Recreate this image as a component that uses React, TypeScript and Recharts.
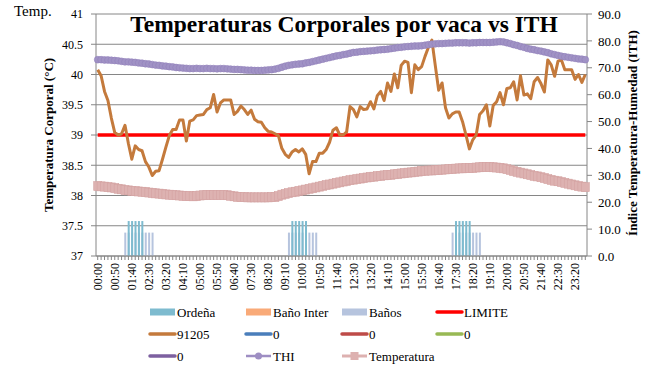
import { ComposedChart, Bar, Line, XAxis, YAxis, CartesianGrid } from "recharts";

const SERIF = "'Liberation Serif', 'Times New Roman', serif";
const GRID = "#868686";

// 10-minute readings over one day
const TIMES = [
  "00:00", "00:10", "00:20", "00:30", "00:40", "00:50", "01:00", "01:10", "01:20", "01:30", "01:40", "01:50",
  "02:00", "02:10", "02:20", "02:30", "02:40", "02:50", "03:00", "03:10", "03:20", "03:30", "03:40", "03:50",
  "04:00", "04:10", "04:20", "04:30", "04:40", "04:50", "05:00", "05:10", "05:20", "05:30", "05:40", "05:50",
  "06:00", "06:10", "06:20", "06:30", "06:40", "06:50", "07:00", "07:10", "07:20", "07:30", "07:40", "07:50",
  "08:00", "08:10", "08:20", "08:30", "08:40", "08:50", "09:00", "09:10", "09:20", "09:30", "09:40", "09:50",
  "10:00", "10:10", "10:20", "10:30", "10:40", "10:50", "11:00", "11:10", "11:20", "11:30", "11:40", "11:50",
  "12:00", "12:10", "12:20", "12:30", "12:40", "12:50", "13:00", "13:10", "13:20", "13:30", "13:40", "13:50",
  "14:00", "14:10", "14:20", "14:30", "14:40", "14:50", "15:00", "15:10", "15:20", "15:30", "15:40", "15:50",
  "16:00", "16:10", "16:20", "16:30", "16:40", "16:50", "17:00", "17:10", "17:20", "17:30", "17:40", "17:50",
  "18:00", "18:10", "18:20", "18:30", "18:40", "18:50", "19:00", "19:10", "19:20", "19:30", "19:40", "19:50",
  "20:00", "20:10", "20:20", "20:30", "20:40", "20:50", "21:00", "21:10", "21:20", "21:30", "21:40", "21:50",
  "22:00", "22:10", "22:20", "22:30", "22:40", "22:50", "23:00", "23:10", "23:20", "23:30", "23:40", "23:50",
];

const TICK_LABELS = [
  "00:00", "00:50", "01:40", "02:30", "03:20", "04:10", "05:00", "05:50", "06:40", "07:30",
  "08:20", "09:10", "10:00", "10:50", "11:40", "12:30", "13:20", "14:10", "15:00", "15:50",
  "16:40", "17:30", "18:20", "19:10", "20:00", "20:50", "21:40", "22:30", "23:20",
];

// cow 91205 body temperature (°C)
const T91205 = [
  40.08, 39.98, 39.72, 39.57, 39.28, 39.04, 39.0, 39.02, 39.16, 38.86, 38.6, 38.82,
  38.76, 38.74, 38.56, 38.47, 38.33, 38.4, 38.41, 38.6, 38.8, 38.99, 39.09, 39.09,
  39.25, 39.25, 38.9, 39.23, 39.25, 39.32, 39.33, 39.34, 39.42, 39.45, 39.67, 39.38,
  39.53, 39.58, 39.58, 39.58, 39.34, 39.39, 39.48, 39.42, 39.34, 39.41, 39.26, 39.22,
  39.21, 39.12, 39.06, 39.05, 39.02, 38.99, 38.78, 38.68, 38.63, 38.72, 38.76, 38.72,
  38.77, 38.68, 38.36, 38.56, 38.56, 38.7, 38.7, 38.76, 38.88, 39.08, 39.12, 39.0,
  39.0, 39.05, 39.47, 39.42, 39.3, 39.47, 39.42, 39.43, 39.55, 39.43, 39.65, 39.72,
  39.57, 39.86, 39.72, 40.01, 39.78, 40.15, 40.22, 40.2, 39.7, 40.16, 40.08, 40.13,
  40.3, 40.45, 40.57, 40.15, 39.74, 39.86, 39.45, 39.28, 39.35, 39.38, 39.38, 39.22,
  39.0, 38.77, 38.92, 39.0, 39.34, 39.4, 39.5, 39.15, 39.49, 39.55, 39.7, 39.5,
  39.77, 39.78, 39.88, 39.58, 39.98, 39.66, 39.68, 39.6, 39.88, 39.95, 39.85, 39.71,
  40.24, 40.16, 39.97, 40.22, 40.24, 40.08, 40.08, 40.08, 39.92, 40.0, 39.87, 40.0,
];

// temperature-humidity index
const THI = [
  73.0, 73.0, 72.9, 72.9, 72.8, 72.7, 72.6, 72.4, 72.2, 72.2, 72.1, 72.0,
  71.8, 71.7, 71.5, 71.4, 71.2, 71.0, 70.9, 70.7, 70.6, 70.4, 70.3, 70.1,
  70.0, 69.9, 69.8, 69.7, 69.7, 69.8, 69.7, 69.7, 69.8, 69.7, 69.7, 69.6,
  69.7, 69.7, 69.6, 69.5, 69.4, 69.4, 69.3, 69.2, 69.1, 69.1, 69.0, 69.0,
  69.0, 69.1, 69.2, 69.3, 69.5, 69.8, 70.2, 70.6, 70.9, 71.1, 71.3, 71.4,
  71.5, 71.8, 72.0, 72.3, 72.6, 72.9, 73.2, 73.5, 73.8, 74.1, 74.4, 74.6,
  74.9, 75.1, 75.4, 75.7, 75.8, 76.0, 76.1, 76.2, 76.3, 76.4, 76.6, 76.7,
  76.8, 76.9, 77.1, 77.3, 77.5, 77.6, 77.8, 77.9, 78.0, 78.1, 78.1, 78.2,
  78.4, 78.6, 78.8, 78.9, 79.0, 79.0, 79.1, 79.2, 79.2, 79.3, 79.3, 79.3,
  79.3, 79.2, 79.3, 79.3, 79.4, 79.4, 79.4, 79.4, 79.5, 79.6, 79.7, 79.6,
  79.3, 79.0, 78.6, 78.3, 77.9, 77.6, 77.2, 76.9, 76.7, 76.4, 76.2, 75.9,
  75.6, 75.2, 74.9, 74.6, 74.3, 74.1, 73.9, 73.7, 73.5, 73.3, 73.2, 73.0,
];

// air temperature (°C), read on the right axis
const TEMPERATURA = [
  26.0, 25.9, 25.8, 25.6, 25.5, 25.3, 25.0, 24.8, 24.5, 24.4, 24.2, 24.1,
  24.0, 23.9, 23.8, 23.6, 23.5, 23.3, 23.2, 23.1, 22.9, 22.8, 22.7, 22.6,
  22.5, 22.4, 22.3, 22.3, 22.2, 22.3, 22.5, 22.6, 22.7, 22.7, 22.7, 22.7,
  22.7, 22.7, 22.6, 22.4, 22.2, 22.0, 21.9, 21.9, 21.8, 21.8, 21.8, 21.8,
  21.8, 21.8, 21.8, 21.9, 21.9, 22.3, 22.8, 23.1, 23.4, 23.7, 23.9, 24.2,
  24.4, 24.7, 25.0, 25.2, 25.5, 25.8, 26.1, 26.4, 26.6, 26.9, 27.2, 27.4,
  27.7, 27.9, 28.2, 28.4, 28.6, 28.8, 29.0, 29.2, 29.4, 29.5, 29.7, 29.8,
  30.0, 30.1, 30.2, 30.4, 30.5, 30.7, 30.8, 31.0, 31.1, 31.3, 31.4, 31.6,
  31.7, 31.8, 31.8, 31.9, 32.0, 32.1, 32.2, 32.3, 32.4, 32.5, 32.6, 32.6,
  32.7, 32.7, 32.8, 32.9, 33.0, 33.1, 33.1, 33.1, 33.0, 32.9, 32.8, 32.6,
  32.3, 32.0, 31.6, 31.3, 31.0, 30.7, 30.4, 30.1, 29.8, 29.6, 29.3, 29.0,
  28.6, 28.3, 28.0, 27.8, 27.5, 27.2, 26.9, 26.6, 26.3, 26.0, 25.8, 25.6,
];

const LIMITE = 39;

// milking and bath events (drawn as markers on the right axis)
const ORDENA_TIMES = [
  "01:30", "01:40", "01:50", "02:00", "02:10",
  "09:30", "09:40", "09:50", "10:00", "10:10",
  "17:30", "17:40", "17:50", "18:00", "18:10",
];
const ORDENA_LEVEL = 13;
const BANOS_TIMES = [
  "01:20", "01:30", "01:40", "01:50", "02:00", "02:10", "02:20", "02:30", "02:40",
  "09:20", "09:30", "09:40", "09:50", "10:00", "10:10", "10:20", "10:30", "10:40",
  "17:20", "17:30", "17:40", "17:50", "18:00", "18:10", "18:20", "18:30", "18:40",
];
const BANOS_LEVEL = 8.7;

const LEFT_TICKS = [37, 37.5, 38, 38.5, 39, 39.5, 40, 40.5, 41];
const RIGHT_TICKS = [0, 10, 20, 30, 40, 50, 60, 70, 80, 90];

const LEGEND = [
  { name: "Ordeña", color: "#7EBBCF", kind: "rect" },
  { name: "Baño Inter", color: "#F9AA78", kind: "rect" },
  { name: "Baños", color: "#B6C4DE", kind: "rect" },
  { name: "LIMITE", color: "#FF0000", kind: "line" },
  { name: "91205", color: "#C47A3C", kind: "line" },
  { name: "0", color: "#4A7EBB", kind: "line" },
  { name: "0", color: "#BE4B48", kind: "line" },
  { name: "0", color: "#98B954", kind: "line" },
  { name: "0", color: "#7D60A0", kind: "line" },
  { name: "THI", color: "#9E8EC3", kind: "circle" },
  { name: "Temperatura", color: "#DDB1B0", kind: "square" },
];

const data = TIMES.map((t, i) => ({
  t,
  ordena: ORDENA_TIMES.includes(t) ? ORDENA_LEVEL : null,
  banos: BANOS_TIMES.includes(t) ? BANOS_LEVEL : null,
  limite: LIMITE,
  cow: T91205[i],
  thi: THI[i],
  temp: TEMPERATURA[i],
}));

function TimeTick(props: any) {
  const { x, y, payload } = props;
  if (!TICK_LABELS.includes(payload.value)) return null;
  return (
    <text
      x={x}
      y={y + 1}
      transform={`rotate(-90 ${x} ${y + 1})`}
      textAnchor="end"
      dy="0.35em"
      fontSize={12}
      fontFamily={SERIF}
      fill="#000"
    >
      {payload.value}
    </text>
  );
}

function CircleDot(props: any) {
  const { cx, cy } = props;
  if (cx == null || cy == null) return null;
  return <circle cx={cx} cy={cy} r={3.4} fill="#A092C5" stroke="#9282BA" strokeWidth={0.6} />;
}

function SquareDot(props: any) {
  const { cx, cy } = props;
  if (cx == null || cy == null) return null;
  return <rect x={cx - 4} y={cy - 4.5} width={8} height={9} fill="#DDB2B1" stroke="#D4A3A2" strokeWidth={0.6} />;
}

function LegendMark({ item, x, y }: { item: (typeof LEGEND)[number]; x: number; y: number }) {
  if (item.kind === "rect") {
    return <rect x={x} y={y - 3.5} width={25} height={7} fill={item.color} />;
  }
  if (item.kind === "circle") {
    return (
      <g>
        <line x1={x} x2={x + 25} y1={y} y2={y} stroke={item.color} strokeWidth={2.5} />
        <circle cx={x + 12.5} cy={y} r={3.5} fill={item.color} />
      </g>
    );
  }
  if (item.kind === "square") {
    return (
      <g>
        <line x1={x} x2={x + 25} y1={y} y2={y} stroke={item.color} strokeWidth={3} />
        <rect x={x + 8.5} y={y - 4} width={8} height={8} fill={item.color} />
      </g>
    );
  }
  return <line x1={x} x2={x + 25} y1={y} y2={y} stroke={item.color} strokeWidth={3.5} strokeLinecap="round" />;
}

export default function App() {
  const cols = [150, 246, 342, 437];
  const rows = [312, 334, 356];
  return (
    <div style={{ position: "relative", width: 652, height: 369, background: "#fff" }}>
      <style>{"body{margin:0}"}</style>
      <ComposedChart
        width={652}
        height={369}
        data={data}
        margin={{ top: 14, right: 0, bottom: 68, left: 0 }}
        barGap={-2}
      >
        <CartesianGrid yAxisId="left" vertical={false} stroke={GRID} strokeWidth={1} />
        <XAxis
          dataKey="t"
          interval={0}
          height={45}
          tick={<TimeTick />}
          tickSize={4}
          tickMargin={2}
          axisLine={{ stroke: GRID }}
          tickLine={{ stroke: GRID }}
        />
        <YAxis
          yAxisId="left"
          width={96}
          domain={[37, 41]}
          ticks={LEFT_TICKS}
          tickSize={5}
          tickMargin={8}
          axisLine={{ stroke: GRID }}
          tickLine={{ stroke: GRID }}
          tick={{ fontSize: 12, fill: "#000", fontFamily: SERIF }}
          allowDataOverflow
        />
        <YAxis
          yAxisId="right"
          orientation="right"
          width={65}
          domain={[0, 90]}
          ticks={RIGHT_TICKS}
          tickFormatter={(v: number) => v.toFixed(1)}
          tickSize={5}
          tickMargin={6}
          axisLine={{ stroke: GRID }}
          tickLine={{ stroke: GRID }}
          tick={{ fontSize: 13, fill: "#000", fontFamily: SERIF }}
        />
        <Bar yAxisId="right" dataKey="banos" fill="#B6C4DE" barSize={2} isAnimationActive={false} />
        <Bar yAxisId="right" dataKey="ordena" fill="#7EBBCF" barSize={2} isAnimationActive={false} />
        <Line
          yAxisId="left"
          dataKey="limite"
          stroke="#FF0000"
          strokeWidth={3.5}
          dot={false}
          isAnimationActive={false}
        />
        <Line
          yAxisId="left"
          dataKey="cow"
          stroke="#C47A3C"
          strokeWidth={3}
          strokeLinejoin="round"
          dot={false}
          isAnimationActive={false}
        />
        <Line
          yAxisId="right"
          dataKey="thi"
          stroke="#9E8EC3"
          strokeWidth={2.5}
          dot={<CircleDot />}
          isAnimationActive={false}
        />
        <Line
          yAxisId="right"
          dataKey="temp"
          stroke="#DDB1B0"
          strokeWidth={3}
          dot={<SquareDot />}
          isAnimationActive={false}
        />
      </ComposedChart>
      <svg
        width={652}
        height={369}
        style={{ position: "absolute", left: 0, top: 0, pointerEvents: "none" }}
        fontFamily={SERIF}
      >
        <text x={14} y={16} fontSize={15}>Temp.</text>
        <text x={344} y={32} fontSize={23.5} fontWeight="bold" textAnchor="middle">
          Temperaturas Corporales por vaca vs ITH
        </text>
        <text
          x={53}
          y={135}
          transform="rotate(-90 53 135)"
          fontSize={13}
          fontWeight="bold"
          textAnchor="middle"
        >
          Temperatura Corporal (°C)
        </text>
        <text
          x={637}
          y={133}
          transform="rotate(-90 637 133)"
          fontSize={13}
          fontWeight="bold"
          textAnchor="middle"
        >
          Índice Temperatura-Humedad (ITH)
        </text>
        {LEGEND.map((item, i) => {
          const x = cols[i % 4];
          const y = rows[Math.floor(i / 4)];
          return (
            <g key={i}>
              <LegendMark item={item} x={x} y={y} />
              <text x={x + 27} y={y + 4.5} fontSize={13}>
                {item.name}
              </text>
            </g>
          );
        })}
      </svg>
    </div>
  );
}
